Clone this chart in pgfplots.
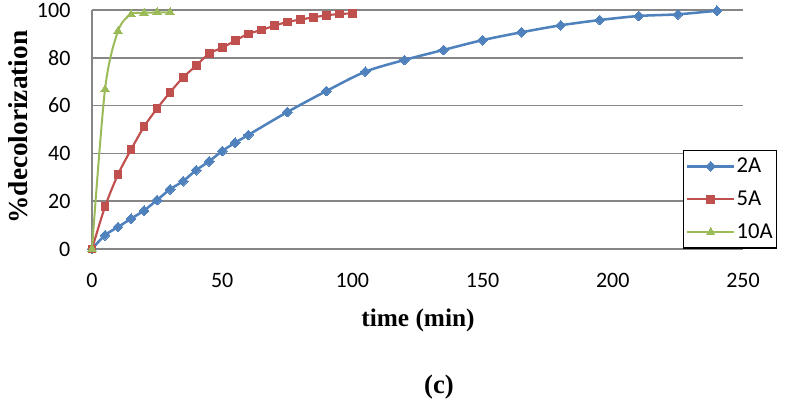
\documentclass[border=0pt]{standalone}
\usepackage{fontspec}
\setmainfont{Liberation Serif}
\newfontfamily\calibri{Carlito}
\usepackage{pgfplots}
\pgfplotsset{compat=1.18}
\definecolor{cblue}{HTML}{4F81BD}
\definecolor{cred}{HTML}{C0504D}
\definecolor{cgreen}{HTML}{9BBB59}
\definecolor{cgrid}{HTML}{868686}
\begin{document}
\begin{tikzpicture}
\path[use as bounding box] (-69pt,-113.25pt) rectangle (521.25pt,186.75pt);
\begin{axis}[
  at={(0pt,0pt)}, anchor=south west,
  scale only axis, width=488.25pt, height=179.25pt,
  xmin=0, xmax=250, ymin=0, ymax=100,
  clip=false,
  axis x line*=bottom, axis y line*=left,
  axis line style={cgrid, line width=1pt, -},
  xtick={0,50,...,250}, ytick={0,20,...,100},
  major tick length=0pt,
  ymajorgrids, grid style={cgrid, line width=1.1pt},
  /pgf/number format/assume math mode=true,
  tick label style={font=\calibri\fontsize{16.5}{19}\selectfont},
  xticklabel style={inner sep=0pt, anchor=north, yshift=-18pt},
  yticklabel style={inner sep=0pt, anchor=east, xshift=-16pt},
  xlabel={time (min)}, ylabel={\%decolorization},
  xlabel style={at={(rel axis cs:0.5008,0)}, anchor=center, yshift=-53.25pt, font=\bfseries\fontsize{19}{21}\selectfont},
  ylabel style={at={(rel axis cs:-0.1137,0.51)}, anchor=center, font=\bfseries\fontsize{20.5}{22}\selectfont},
  legend style={at={(rel axis cs:0.9078,0.414)}, anchor=north west, draw=black, line width=0.8pt, fill=white,
    font=\calibri\fontsize{17}{19}\selectfont, inner xsep=2pt, inner ysep=4.5pt, row sep=10.3pt,
    nodes={inner sep=1pt, anchor=west}},
  legend cell align=left,
  legend image code/.code={\draw[mark repeat=2,mark phase=2] plot coordinates {(0pt,0pt) (17.5pt,0pt) (35pt,0pt)};},
]
\addplot[cblue, line width=1.9pt, smooth, mark=square*, mark size=2.6pt, mark options={rotate=45, fill=cblue, draw=cblue, line width=0pt}] coordinates {
(0,0)(5,5.8)(10,9.2)(15,12.7)(20,16.1)(25,20.5)(30,25)(35,28.4)(40,33)(45,36.7)(50,41)(55,44.5)(60,47.7)(75,57.3)(90,66.1)(105,74.2)(120,79.1)(135,83.3)(150,87.4)(165,90.7)(180,93.6)(195,95.8)(210,97.5)(225,98.2)(240,99.7)};
\addlegendentry{2A}
\addplot[cred, line width=1.6pt, smooth, mark=square*, mark size=2.9pt, mark options={fill=cred, draw=cred, line width=0pt}] coordinates {
(0,0)(5,17.7)(10,31.2)(15,41.6)(20,51.2)(25,58.8)(30,65.6)(35,71.8)(40,76.7)(45,81.8)(50,84.2)(55,87.2)(60,90)(65,91.6)(70,93.4)(75,95)(80,96)(85,96.9)(90,97.8)(95,98.3)(100,98.6)};
\addlegendentry{5A}
\addplot[cgreen, line width=1.5pt, smooth, mark=triangle*, mark size=3.6pt, mark options={fill=cgreen, draw=cgreen, line width=0pt}] coordinates {
(0,0)(5,66.8)(10,91.2)(15,98.2)(20,98.8)(25,99)(30,99)};
\addlegendentry{10A}
\node[font=\bfseries\fontsize{20}{22}\selectfont] at (rel axis cs:0.533,-0.577) {(c)};
\end{axis}
\end{tikzpicture}
\end{document}
